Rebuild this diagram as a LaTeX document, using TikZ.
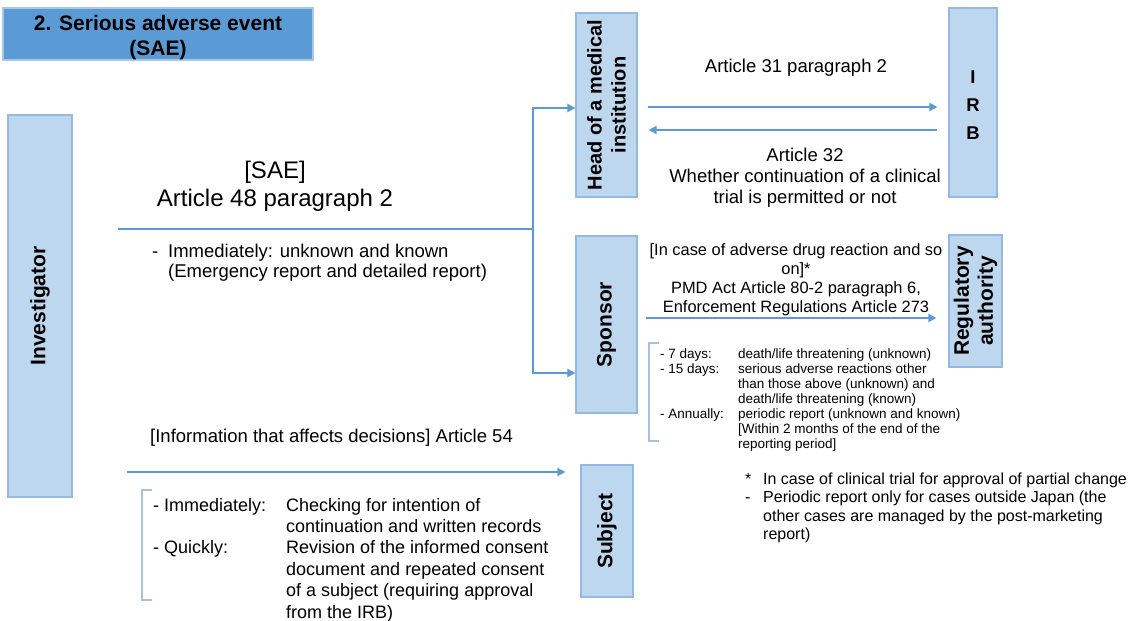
\documentclass[tikz,border=0pt]{standalone}
\usepackage{fontspec}
\setmainfont{Liberation Sans}
\usetikzlibrary{arrows.meta,calc}
\definecolor{boxfill}{HTML}{BDD7EE}
\definecolor{boxline}{HTML}{95B9E0}
\definecolor{titlefill}{HTML}{5B9BD5}
\definecolor{titleline}{HTML}{A9C8E8}
\definecolor{arrowc}{HTML}{5B9BD5}
\definecolor{brack}{HTML}{A8C3DF}
\begin{document}
\begin{tikzpicture}[x=1pt,y=-1pt,
  box/.style={draw=boxline, fill=boxfill, line width=1.2pt, inner sep=0pt},
  lab/.style={font=\fontsize{21}{24}\selectfont\bfseries, rotate=90, inner sep=0pt, align=center},
  conn/.style={draw=arrowc, line width=2.4pt},
  arr/.style={conn, -{Triangle[length=8pt,width=8pt]}},
  txt/.style={inner sep=0pt, anchor=base},
  txtl/.style={inner sep=0pt, anchor=base west},
  brk/.style={draw=brack, line width=1.2pt}]
\useasboundingbox (0,0) rectangle (1135,621);

% boxes
\node[box, fill=titlefill, draw=titleline, minimum width=310pt, minimum height=52pt] (title) at (158,34) {};
\node[txt, font=\fontsize{21}{25}\selectfont\bfseries] (titleT) at (158,30) {\begin{tabular}[t]{@{}c@{}}2. Serious adverse event\\(SAE)\end{tabular}};

\node[box, minimum width=64pt, minimum height=382pt] (inv) at (40,306) {};
\node[lab] (invT) at (inv) {Investigator};

\node[box, minimum width=61pt, minimum height=184pt] (head) at (606.5,105) {};
\node[lab, font=\fontsize{20}{24}\selectfont\bfseries] (headT) at (head) {Head of a medical\\institution};

\node[box, minimum width=48pt, minimum height=189pt] (irb) at (973,102.5) {};
\node[inner sep=0pt, align=center, font=\fontsize{18.5}{28}\selectfont\bfseries] (irbT) at (973,105) {I\\R\\B};

\node[box, minimum width=61pt, minimum height=177pt] (sponsor) at (606.5,324.5) {};
\node[lab] (sponsorT) at (sponsor) {Sponsor};

\node[box, minimum width=53pt, minimum height=132pt] (reg) at (975.5,301) {};
\node[lab] (regT) at (reg) {Regulatory\\authority};

\node[box, minimum width=52pt, minimum height=132pt] (subj) at (607,531) {};
\node[lab] (subjT) at (subj) {Subject};

% connectors
\coordinate (invOut) at ($(inv.east)+(45,-77)$);
\coordinate (split) at (533,229);
\draw[conn] (invOut) -- (split);
\draw[arr] (split) |- ([yshift=-3pt]head.west);
\draw[arr] (split) |- ([yshift=-48.5pt]sponsor.west);
\draw[arr] ($(head.east)+(10,2)$) -- ($(irb.west)+(-11,4.5)$);
\draw[arr] ($(irb.west)+(-11,27.5)$) -- ($(head.east)+(11,25)$);
\draw[arr] ($(sponsor.east)+(8,-6.5)$) -- ($(reg.west)+(-12,17)$);
\draw[arr] ($(inv.east)+(54,166)$) -- ($(subj.west)+(-15,-59)$);

% brackets
\draw[brk] (659,343) -- (649,343) -- (649,441) -- (659,441);
\draw[brk] (152,490) -- (142,490) -- (142,600) -- (152,600);

% texts
\node[txt, font=\fontsize{18.5}{21}\selectfont] (t31) at (796,72) {Article 31 paragraph 2};
\node[txt, font=\fontsize{18.5}{21}\selectfont] (t32) at (805,161) {\begin{tabular}[t]{@{}c@{}}Article 32\\Whether continuation of a clinical\\trial is permitted or not\end{tabular}};
\node[txt, font=\fontsize{24}{28}\selectfont] (tsae) at (275,178) {\begin{tabular}[t]{@{}c@{}}{[SAE]}\\Article 48 paragraph 2\end{tabular}};
\node[txtl, font=\fontsize{18.5}{20}\selectfont] (timm) at (152,257) {\begin{tabular}[t]{@{}p{16pt}@{}l@{}}-&Immediately: unknown and known\\&(Emergency report and detailed report)\end{tabular}};
\node[txt, font=\fontsize{16.4}{19}\selectfont] (tadr) at (796,255) {\begin{tabular}[t]{@{}c@{}}{[In case of adverse drug reaction and so}\\on]*\\PMD Act Article 80-2 paragraph 6,\\Enforcement Regulations Article 273\end{tabular}};
\node[txtl, font=\fontsize{13.5}{15}\selectfont] (tlist) at (660,358) {\begin{tabular}[t]{@{}p{78pt}@{}l@{}}
- 7 days: & death/life threatening (unknown)\\
- 15 days: & serious adverse reactions other\\
 & than those above (unknown) and\\
 & death/life threatening (known)\\
- Annually: & periodic report (unknown and known)\\
 & {[Within 2 months of the end of the}\\
 & reporting period]
\end{tabular}};
\node[txtl, font=\fontsize{18.5}{21}\selectfont] (tinfo) at (150,442) {[Information that affects decisions] Article 54};
\node[txtl, font=\fontsize{18}{21.4}\selectfont] (tsubj) at (153,511) {\begin{tabular}[t]{@{}p{133pt}@{}l@{}}
- Immediately: & Checking for intention of\\
 & continuation and written records\\
- Quickly: & Revision of the informed consent\\
 & document and repeated consent\\
 & of a subject (requiring approval\\
 & from the IRB)
\end{tabular}};
\node[txtl, font=\fontsize{16}{18.5}\selectfont] (tnote) at (745,484) {\begin{tabular}[t]{@{}p{18pt}@{}l@{}}
* & In case of clinical trial for approval of partial change\\
- & Periodic report only for cases outside Japan (the\\
 & other cases are managed by the post-marketing\\
 & report)
\end{tabular}};
\end{tikzpicture}
\end{document}
